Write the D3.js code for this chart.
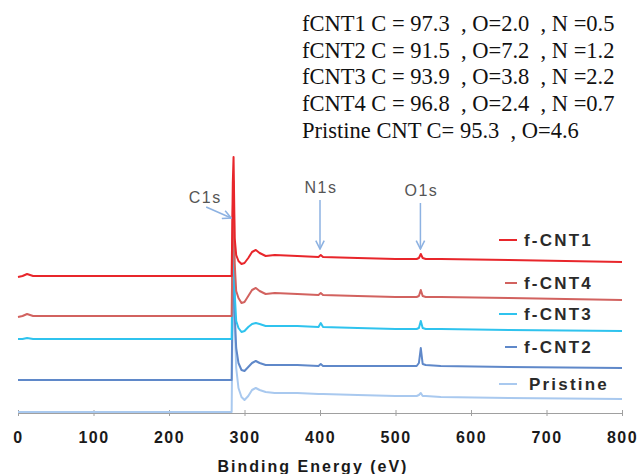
<!DOCTYPE html>
<html>
<head>
<meta charset="utf-8">
<script src="https://cdn.jsdelivr.net/npm/d3@7"></script>
<style>
  body { margin: 0; background: #fff; }
  svg { display: block; }
  .axis text { font-family: Arial, "Liberation Sans", sans-serif; font-weight: bold; font-size: 16px; fill: #1a1a1a; letter-spacing: 1.5px; }
  .axis path, .axis line { stroke: #a0a0a0; }
</style>
</head>
<body>
<svg width="639" height="474"></svg>
<script>
// binding energy grid (eV), shared by all spectra
var energy = [0, 6, 12, 20, 40, 150, 283, 284.5, 285.5, 287, 289, 292, 296, 300, 305, 310, 315, 320, 328, 340, 370, 398, 401, 404, 450, 500, 528, 531, 533.5, 536, 540, 560, 650, 800];

// intensities (a.u., offset stacked as in the figure)
var fcnt1    = [136, 137, 139, 137, 137, 137, 137, 230, 256, 175, 158, 152, 149, 150, 155, 161, 163, 160, 157, 158, 157, 156, 158, 156, 155, 154, 154, 155, 159, 155, 154, 154, 153, 151];
var fcnt4    = [96, 97, 99, 97, 97, 97, 97, 200, 232, 150, 122, 115, 110, 111, 117, 123, 125, 122, 119, 120, 119, 118, 120, 118, 117, 116, 116, 117, 123, 117, 116, 116, 115, 113];
var fcnt3    = [74, 74, 75, 74, 74, 74, 74, 170, 205, 120, 92, 85, 81, 82, 86, 89, 90, 89, 87, 87, 87, 86, 90, 86, 85, 84, 84, 85, 92, 85, 84, 84, 83, 82];
var fcnt2    = [33, 33, 33, 33, 33, 33, 33, 140, 180, 100, 65, 50, 43, 42, 46, 50, 52, 50, 48, 48, 48, 47, 49, 47, 47, 47, 47, 50, 65, 49, 48, 47, 46, 45];
var pristine = [1, 1, 1, 1, 1, 1, 1, 130, 175, 90, 45, 25, 16, 13, 17, 23, 25, 23, 21, 20, 20, 19, 19, 19, 18, 17, 17, 18, 20, 17, 17, 16, 15, 14];

var seriesNames  = ["Pristine", "f-CNT2", "f-CNT3", "f-CNT4", "f-CNT1"];
var seriesValues = [pristine, fcnt2, fcnt3, fcnt4, fcnt1];
var seriesColors = ["#a9c9ef", "#5f88c9", "#2fc3ee", "#d2625f", "#e8262b"];

var xTicks = [0, 100, 200, 300, 400, 500, 600, 700, 800];

var peaks = [
  {label: "C1s", energy: 285},
  {label: "N1s", energy: 400},
  {label: "O1s", energy: 533}
];

var composition = [
  "fCNT1 C = 97.3  , O=2.0  , N =0.5",
  "fCNT2 C = 91.5  , O=7.2  , N =1.2",
  "fCNT3 C = 93.9  , O=3.8  , N =2.2",
  "fCNT4 C = 96.8  , O=2.4  , N =0.7",
  "Pristine CNT C= 95.3  , O=4.6"
];

var svg = d3.select("svg");

var x = d3.scaleLinear().domain([0, 800]).range([18, 622]),
    y = d3.scaleLinear().domain([0, 260]).range([413, 153]);

var line = d3.line()
    .x(function(d) { return x(d[0]); })
    .y(function(d) { return y(d[1]); });

var series = seriesNames.map(function(name, i) {
  return {
    name: name,
    color: seriesColors[i],
    values: energy.map(function(e, j) { return [e, seriesValues[i][j]]; })
  };
});

// X-Axis
var axis = svg.append("g")
    .attr("class", "axis")
    .attr("transform", "translate(0," + y(0) + ")")
    .call(d3.axisBottom(x).tickValues(xTicks).tickSizeOuter(0).tickSize(3));
axis.selectAll(".tick line").attr("y1", -3).attr("y2", 3);
axis.selectAll(".tick text").attr("y", 24).attr("dy", "0.35em");

svg.append("text")
    .attr("x", 313)
    .attr("y", 466)
    .attr("dy", "0.35em")
    .attr("text-anchor", "middle")
    .style("font", "bold 16px Arial, 'Liberation Sans', sans-serif")
    .style("letter-spacing", "2px")
    .style("fill", "#1a1a1a")
    .text("Binding Energy (eV)");

// spectra
svg.selectAll(".spectrum")
  .data(series)
  .enter().append("path")
    .attr("class", "spectrum")
    .attr("fill", "none")
    .attr("stroke", function(d) { return d.color; })
    .attr("stroke-width", 2)
    .attr("stroke-linejoin", "round")
    .attr("d", function(d) { return line(d.values); });

// legend, top to bottom in the figure's order
var legendOrder = ["f-CNT1", "f-CNT4", "f-CNT3", "f-CNT2", "Pristine"];
var legendY = [240, 283, 314, 347, 384];
var legend = svg.selectAll(".legend")
  .data(legendOrder)
  .enter().append("g")
    .attr("class", "legend")
    .attr("transform", function(d, i) { return "translate(0," + legendY[i] + ")"; });

legend.append("line")
    .attr("x1", function(d, i) { return i % 2 ? 505 : 499; })
    .attr("x2", 517)
    .attr("stroke", function(d) { return seriesColors[seriesNames.indexOf(d)]; })
    .attr("stroke-width", 2);

legend.append("text")
    .attr("x", function(d) { return d == "Pristine" ? 529 : 524; })
    .attr("dy", "0.35em")
    .style("font", "bold 17px Arial, 'Liberation Sans', sans-serif")
    .style("letter-spacing", "2.2px")
    .style("fill", "#2a2a2a")
    .text(function(d) { return d; });

// peak annotations
var arrowColor = "#8db2e2";
svg.append("defs").append("marker")
    .attr("id", "head")
    .attr("viewBox", "0 0 10 10")
    .attr("refX", 9).attr("refY", 5)
    .attr("markerWidth", 7).attr("markerHeight", 7)
    .attr("orient", "auto")
  .append("path")
    .attr("d", "M1,1 L9,5 L1,9")
    .attr("fill", "none")
    .attr("stroke", arrowColor)
    .attr("stroke-width", 1.5);

var labelStyle = "16px Arial, 'Liberation Sans', sans-serif";

// C1s: label to the left, slanted arrow onto the peak
svg.append("text")
    .attr("x", x(peaks[0].energy) - 28)
    .attr("y", 197)
    .attr("dy", "0.35em")
    .attr("text-anchor", "middle")
    .style("font", labelStyle)
    .style("letter-spacing", "1.5px")
    .style("fill", "#555")
    .text(peaks[0].label);
svg.append("line")
    .attr("x1", x(peaks[0].energy) - 27).attr("y1", 207)
    .attr("x2", x(peaks[0].energy) - 2).attr("y2", 218)
    .attr("stroke", arrowColor)
    .attr("stroke-width", 1.5)
    .attr("marker-end", "url(#head)");

// N1s and O1s: label above, vertical arrow down to the top spectrum
[peaks[1], peaks[2]].forEach(function(p, i) {
  var ty = i == 0 ? 187 : 190;
  svg.append("text")
      .attr("x", x(p.energy) + 1)
      .attr("y", ty)
      .attr("dy", "0.35em")
      .attr("text-anchor", "middle")
      .style("font", labelStyle)
      .style("letter-spacing", "1.5px")
      .style("fill", "#555")
      .text(p.label);
  svg.append("line")
      .attr("x1", x(p.energy)).attr("y1", ty + 13)
      .attr("x2", x(p.energy)).attr("y2", y(164))
      .attr("stroke", arrowColor)
      .attr("stroke-width", 1.5)
      .attr("marker-end", "url(#head)");
});

// elemental composition text block
svg.selectAll(".comp")
  .data(composition)
  .enter().append("text")
    .attr("class", "comp")
    .attr("x", 302)
    .attr("y", function(d, i) { return 23 + i * 26.8; })
    .attr("dy", "0.35em")
    .style("font", "22.5px 'Liberation Serif', 'Times New Roman', serif")
    .style("white-space", "pre")
    .style("fill", "#111")
    .text(function(d) { return d; });
</script>
</body>
</html>
